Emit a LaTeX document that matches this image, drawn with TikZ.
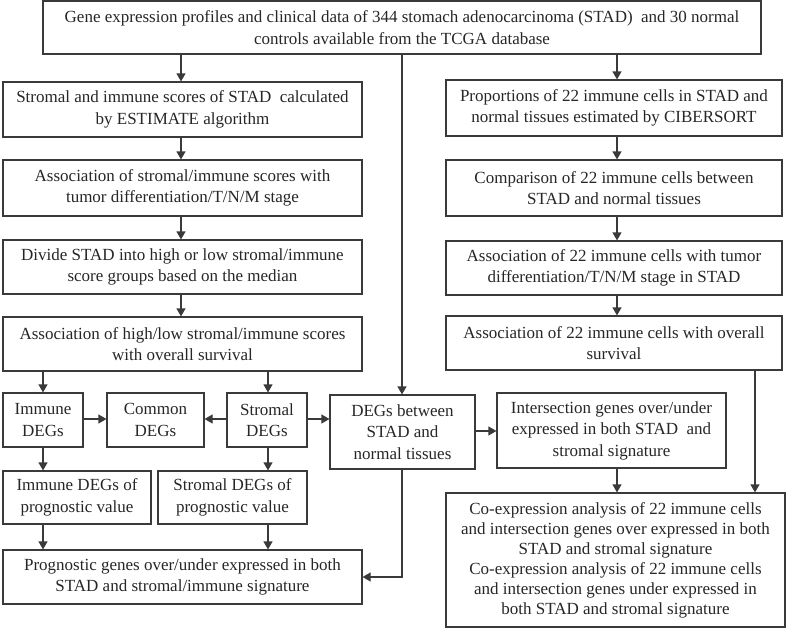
\documentclass[tikz,border=0pt]{standalone}
\usepackage{fontspec}
\setmainfont{Liberation Serif}
\usetikzlibrary{arrows.meta}
\definecolor{ln}{HTML}{3A3A3A}
\begin{document}
\begin{tikzpicture}[x=1pt,y=-1pt,
  box/.style={draw=ln, line width=1.2pt, align=center, inner sep=0pt,
    font=\fontsize{17}{21.5}\selectfont, text=black!85},
  arr/.style={draw=ln, line width=1.2pt, -{Triangle[length=8pt,width=9pt]}},
  ln2/.style={draw=ln, line width=1.2pt}]
\useasboundingbox (0,0) rectangle (787,629);
\node[box, minimum width=718, minimum height=53] (top) at (402,27.5)
  {Gene expression profiles and clinical data of 344 stomach adenocarcinoma (STAD)\ \ and 30 normal\\controls available from the TCGA database};
\node[box, minimum width=359, minimum height=55] (A1) at (182.5,109.5)
  {Stromal and immune scores of STAD\ \ calculated\\by ESTIMATE algorithm};
\node[box, minimum width=359, minimum height=56] (A2) at (182.5,188)
  {Association of stromal/immune scores with\\tumor differentiation/T/N/M stage};
\node[box, minimum width=359, minimum height=54] (A3) at (182.5,267)
  {Divide STAD into high or low stromal/immune\\score groups based on the median};
\node[box, minimum width=359, minimum height=54] (A4) at (182.5,344)
  {Association of high/low stromal/immune scores\\with overall survival};
\node[box, minimum width=336, minimum height=56] (B1) at (614,108)
  {Proportions of 22 immune cells in STAD and\\normal tissues estimated by CIBERSORT};
\node[box, minimum width=336, minimum height=56] (B2) at (614,188)
  {Comparison of 22 immune cells between\\STAD and normal tissues};
\node[box, minimum width=336, minimum height=54] (B3) at (614,268)
  {Association of 22 immune cells with tumor\\differentiation/T/N/M stage in STAD};
\node[box, minimum width=336, minimum height=54] (B4) at (614,343)
  {Association of 22 immune cells with overall\\survival};
\node[box, minimum width=80, minimum height=54] (ID) at (43,420) {Immune\\DEGs};
\node[box, minimum width=97, minimum height=54] (CD) at (155.5,420) {Common\\DEGs};
\node[box, minimum width=80, minimum height=54] (SD) at (267,420) {Stromal\\DEGs};
\node[box, minimum width=145, minimum height=74] (DB) at (402.5,432)
  {DEGs between\\STAD and\\normal tissues};
\node[box, minimum width=229, minimum height=75] (IG) at (611.5,430.5)
  {Intersection genes over/under\\expressed in both STAD\ \ and\\stromal signature};
\node[box, minimum width=148, minimum height=53] (IP) at (77,497.5)
  {Immune DEGs of\\prognostic value};
\node[box, minimum width=149, minimum height=53] (SP) at (232.5,497.5)
  {Stromal DEGs of\\prognostic value};
\node[box, minimum width=359, minimum height=54] (PG) at (182.5,577)
  {Prognostic genes over/under expressed in both\\STAD and stromal/immune signature};
\node[box, minimum width=339, minimum height=134, font=\fontsize{17}{20}\selectfont] (CE) at (615.5,560)
  {Co-expression analysis of 22 immune cells\\and intersection genes over expressed in both\\STAD and stromal signature\\Co-expression analysis of 22 immune cells\\and intersection genes under expressed in\\both STAD and stromal signature};
% arrows
\draw[arr] ([xshift=-1.5]A1.north |- top.south) -- ([xshift=-1.5]A1.north);
\draw[arr] ([xshift=3]B1.north |- top.south) -- ([xshift=3]B1.north);
\draw[arr] ([xshift=-0.5]DB.north |- top.south) -- ([xshift=-0.5]DB.north);
\foreach \a/\b in {A1/A2,A2/A3,A3/A4}
  \draw[arr] ([xshift=-1.5]\a.south) -- ([xshift=-1.5]\b.north);
\foreach \a/\b in {B1/B2,B2/B3,B3/B4}
  \draw[arr] ([xshift=3]\a.south) -- ([xshift=3]\b.north);
\draw[arr] (ID.north |- A4.south) -- (ID.north);
\draw[arr] ([xshift=1]SD.north |- A4.south) -- ([xshift=1]SD.north);
\draw[arr] ([yshift=1]ID.east) -- ([yshift=1]CD.west);
\draw[arr] ([yshift=1]SD.west) -- ([yshift=1]CD.east);
\draw[arr] ([yshift=1]SD.east) -- ([yshift=1]DB.west |- SD.east);
\draw[arr] ([yshift=1]DB.east) -- ([yshift=1]IG.west |- DB.east);
\draw[arr] (ID.south) -- (ID.south |- IP.north);
\draw[arr] ([xshift=1]SD.south) -- ([xshift=1]SD.south |- SP.north);
\draw[arr] (ID.south |- IP.south) -- (ID.south |- PG.north);
\draw[arr] ([xshift=1]SD.south |- SP.south) -- ([xshift=1]SD.south |- PG.north);
\draw[arr] ([xshift=-0.5]DB.south) -- ([xshift=-0.5]DB.south |- PG.east) -- (PG.east);
\draw[arr] ([xshift=5.5]IG.south) -- ([xshift=5.5]IG.south |- CE.north);
\draw[arr] ([xshift=141]B4.south) -- ([xshift=141]B4.south |- CE.north);
\end{tikzpicture}
\end{document}
